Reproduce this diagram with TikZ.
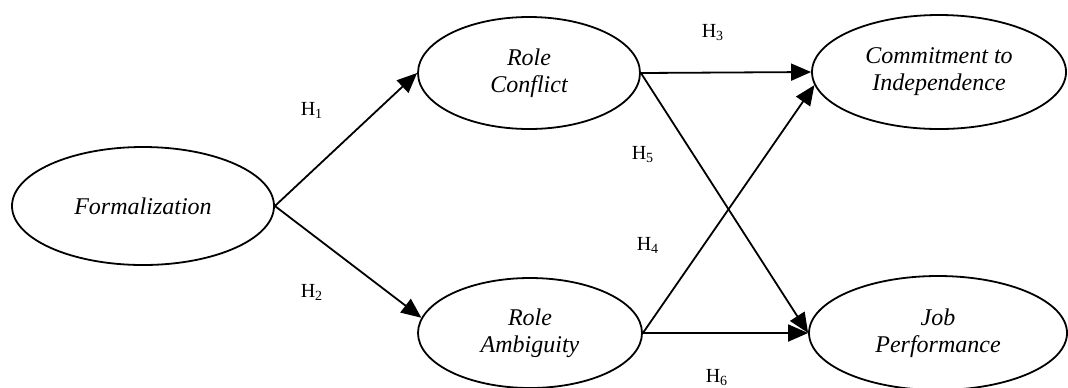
\documentclass[tikz,border=0pt]{standalone}
\usepackage{fontspec}
\setmainfont{Liberation Serif}
\usepackage{tikz}
\usetikzlibrary{shapes.geometric,arrows.meta}

\begin{document}
\begin{tikzpicture}[x=0.5pt,y=-0.5pt]
\tikzstyle{construct}=[ellipse,draw,line width=0.9pt,inner sep=0pt,align=center,font=\fontsize{12}{13.5}\selectfont\itshape]
 \tikzstyle{hyp}=[inner sep=0pt,font=\fontsize{10}{12}\selectfont]
 \tikzstyle{path}=[line width=0.9pt,-{Triangle[length=10pt,width=8.5pt]}]
 \useasboundingbox (0,0) rectangle (1068,387);
 \node[construct, minimum width=131pt, minimum height=59pt] (form) at (143,206) {Formalization};
 \node[construct, minimum width=111pt, minimum height=56pt] (conf) at (529,73) {Role\\Conflict};
 \node[construct, minimum width=112pt, minimum height=55pt] (amb) at (530,333) {Role\\Ambiguity};
 \node[construct, minimum width=127pt, minimum height=57pt] (comm) at (939,72) {Commitment to\\Independence};
 \node[construct, minimum width=129pt, minimum height=57pt] (job) at (938,333) {Job\\Performance};
 %\node[construct] (indep) at (0,0) {};
 \draw [path] (form.east) -- (conf.west);
 \draw [path] (form.east) -- (amb.172);
 \draw [path] (conf.east) -- (comm.west);
 \draw [path] (conf.east) -- (job.west);
 \draw [path] (amb.east) -- (comm.186);
 \draw [path] (amb.east) -- (job.west);

 \node[hyp] (h1) at (312,110) {H\textsubscript{1}};
 \node[hyp] (h2) at (312,292) {H\textsubscript{2}};
 \node[hyp] (h3) at (713,33) {H\textsubscript{3}};
 \node[hyp] (h4) at (648,245) {H\textsubscript{4}};
 \node[hyp] (h5) at (643,155) {H\textsubscript{5}};
 \node[hyp] (h6) at (717,378) {H\textsubscript{6}};

\end{tikzpicture}
\end{document}
